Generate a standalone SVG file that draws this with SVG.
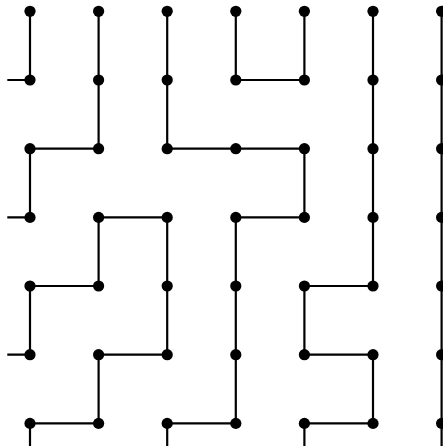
<svg xmlns="http://www.w3.org/2000/svg" width="443" height="448" viewBox="0 0 443 448">
<style>
.e{stroke:#000;stroke-width:2.2;fill:none;stroke-linecap:butt}
.n{fill:#000}
</style>
<defs><circle id="d" r="5.6"/></defs>
<rect width="443" height="448" fill="#fff"/>
<g id="connectors" class="e">
<path d="M7.3 80H30 M7.3 217.4H30 M7.3 354.7H30"/>
<path d="M30 11.3V80 M98.6 11.3V148.7 M167.2 11.3V148.7 M235.8 11.3V80H304.4V11.3 M373 11.3V286 M441.6 11.3V446"/>
<path d="M30 217.4V148.7H98.6 M167.2 148.7H304.4V217.4H235.8V354.7 M235.8 354.7V423.4H167.2V446"/>
<path d="M98.6 286V217.4H167.2V354.7H98.6V423.4H30V446 M30 354.7V286H98.6"/>
<path d="M373 286H304.4V354.7H373V423.4H304.4V446"/>
</g>
<g id="nodes" class="n">
<g id="n00"><use href="#d" x="30" y="11.3"/></g>
<g id="n10"><use href="#d" x="98.6" y="11.3"/></g>
<g id="n20"><use href="#d" x="167.2" y="11.3"/></g>
<g id="n30"><use href="#d" x="235.8" y="11.3"/></g>
<g id="n40"><use href="#d" x="304.4" y="11.3"/></g>
<g id="n50"><use href="#d" x="373" y="11.3"/></g>
<g id="n60"><use href="#d" x="441.6" y="11.3"/></g>
<g id="n01"><use href="#d" x="30" y="80"/></g>
<g id="n11"><use href="#d" x="98.6" y="80"/></g>
<g id="n21"><use href="#d" x="167.2" y="80"/></g>
<g id="n31"><use href="#d" x="235.8" y="80"/></g>
<g id="n41"><use href="#d" x="304.4" y="80"/></g>
<g id="n51"><use href="#d" x="373" y="80"/></g>
<g id="n61"><use href="#d" x="441.6" y="80"/></g>
<g id="n02"><use href="#d" x="30" y="148.7"/></g>
<g id="n12"><use href="#d" x="98.6" y="148.7"/></g>
<g id="n22"><use href="#d" x="167.2" y="148.7"/></g>
<g id="n32"><use href="#d" x="235.8" y="148.7"/></g>
<g id="n42"><use href="#d" x="304.4" y="148.7"/></g>
<g id="n52"><use href="#d" x="373" y="148.7"/></g>
<g id="n62"><use href="#d" x="441.6" y="148.7"/></g>
<g id="n03"><use href="#d" x="30" y="217.4"/></g>
<g id="n13"><use href="#d" x="98.6" y="217.4"/></g>
<g id="n23"><use href="#d" x="167.2" y="217.4"/></g>
<g id="n33"><use href="#d" x="235.8" y="217.4"/></g>
<g id="n43"><use href="#d" x="304.4" y="217.4"/></g>
<g id="n53"><use href="#d" x="373" y="217.4"/></g>
<g id="n63"><use href="#d" x="441.6" y="217.4"/></g>
<g id="n04"><use href="#d" x="30" y="286"/></g>
<g id="n14"><use href="#d" x="98.6" y="286"/></g>
<g id="n24"><use href="#d" x="167.2" y="286"/></g>
<g id="n34"><use href="#d" x="235.8" y="286"/></g>
<g id="n44"><use href="#d" x="304.4" y="286"/></g>
<g id="n54"><use href="#d" x="373" y="286"/></g>
<g id="n64"><use href="#d" x="441.6" y="286"/></g>
<g id="n05"><use href="#d" x="30" y="354.7"/></g>
<g id="n15"><use href="#d" x="98.6" y="354.7"/></g>
<g id="n25"><use href="#d" x="167.2" y="354.7"/></g>
<g id="n35"><use href="#d" x="235.8" y="354.7"/></g>
<g id="n45"><use href="#d" x="304.4" y="354.7"/></g>
<g id="n55"><use href="#d" x="373" y="354.7"/></g>
<g id="n65"><use href="#d" x="441.6" y="354.7"/></g>
<g id="n06"><use href="#d" x="30" y="423.4"/></g>
<g id="n16"><use href="#d" x="98.6" y="423.4"/></g>
<g id="n26"><use href="#d" x="167.2" y="423.4"/></g>
<g id="n36"><use href="#d" x="235.8" y="423.4"/></g>
<g id="n46"><use href="#d" x="304.4" y="423.4"/></g>
<g id="n56"><use href="#d" x="373" y="423.4"/></g>
<g id="n66"><use href="#d" x="441.6" y="423.4"/></g>
</g>
</svg>
